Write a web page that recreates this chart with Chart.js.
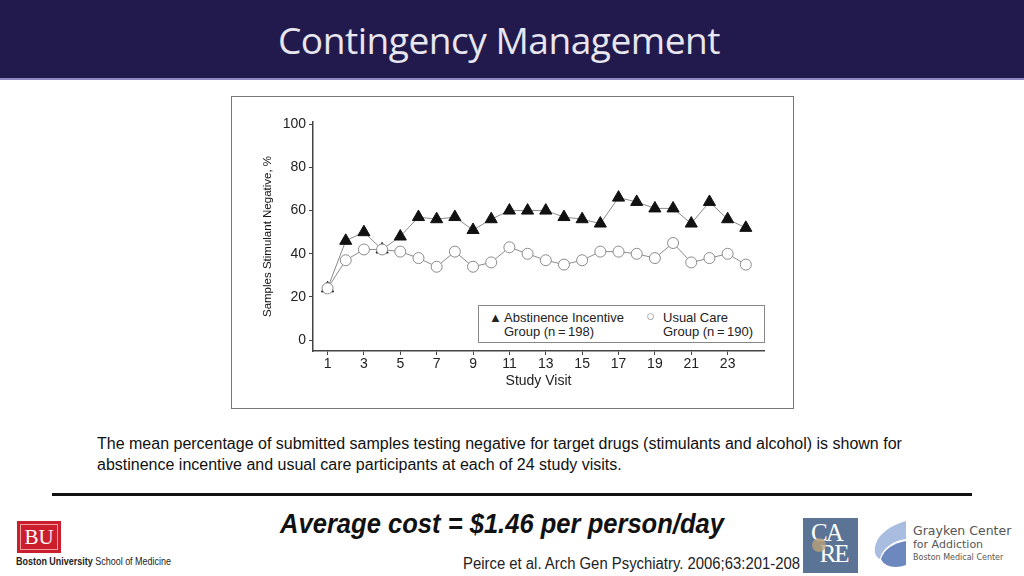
<!DOCTYPE html>
<html>
<head>
<meta charset="utf-8">
<script src="https://cdn.jsdelivr.net/npm/chart.js@4.4.0/dist/chart.umd.min.js"></script>
<style>
  body { margin: 0; width: 1024px; height: 576px; position: relative; background: #fff; font-family: "Liberation Sans", Arial, sans-serif; overflow: hidden; }
  .header { position: absolute; left: 0; top: 0; width: 1024px; height: 78px; background: #221a4c; border-bottom: 2px solid #9088c0; }
  .header h1 { position: absolute; left: 278px; top: 0; margin: 0; color: #e8e6ef; font-family: "Open Sans", sans-serif; font-weight: 400; font-size: 37px; line-height: 80px; letter-spacing: -0.5px; white-space: nowrap; transform-origin: left center; }
  .chartbox { position: absolute; left: 231px; top: 96px; width: 561px; height: 311px; border: 1px solid #777; background: #fff; }
  .legend { position: absolute; left: 478px; top: 305px; width: 285px; height: 36px; border: 1px solid #888; background: #fff; font-size: 13px; color: #222; line-height: 14px; }
  .legend .item { position: absolute; top: 5px; white-space: nowrap; }
  .legend .mark { position: absolute; left: -15px; top: 0px; font-size: 13px; }
  .caption { position: absolute; left: 97px; top: 433px; font-size: 16px; line-height: 21px; color: #111; }
  .rule { position: absolute; left: 52px; top: 493px; width: 920px; height: 3px; background: #111; }
  .fit { position: absolute; white-space: nowrap; transform-origin: left center; }
  .cost { left: 280px; top: 509px; font-weight: bold; font-style: italic; font-size: 27px; color: #111; }
  .cite { left: 463px; top: 555px; font-size: 16px; color: #222; }
</style>
</head>
<body>
<div class="header"><h1 class="fitme" data-w="442">Contingency Management</h1></div>

<div class="chartbox"><canvas id="chart" width="561" height="311"></canvas></div>

<div class="legend">
  <div class="item" style="left:25px"><span class="mark">&#9650;</span>Abstinence Incentive<br>Group (n&#8201;=&#8201;198)</div>
  <div class="item" style="left:184px"><span class="mark" style="color:#999;font-size:15px;top:-2px;left:-17px">&#9675;</span>Usual Care<br>Group (n&#8201;=&#8201;190)</div>
</div>

<div class="caption">The mean percentage of submitted samples testing negative for target drugs (stimulants and alcohol) is shown for<br>abstinence incentive and usual care participants at each of 24 study visits.</div>
<div class="rule"></div>
<div class="fit cost fitme" data-w="444">Average cost = $1.46 per person/day</div>
<div class="fit cite fitme" data-w="337">Peirce et al. Arch Gen Psychiatry. 2006;63:201-208</div>

<!-- BU logo -->
<div style="position:absolute;left:17px;top:521px;width:44px;height:32px;background:#cc1f2d;"></div>
<div style="position:absolute;left:20px;top:524px;width:36px;height:24px;border:1px solid #f0a0a0;"></div>
<div style="position:absolute;left:17px;top:524px;width:44px;text-align:center;color:#fff;font-family:'Liberation Serif',serif;font-size:21px;line-height:26px;">BU</div>
<div class="fit fitme" data-w="155" style="left:16px;top:556px;font-size:10px;color:#222;"><b>Boston University</b> School of Medicine</div>

<!-- CARE logo -->
<div style="position:absolute;left:803px;top:518px;width:55px;height:55px;background:#5b7394;"></div>
<div style="position:absolute;left:811px;top:522px;color:#fff;font-family:'Liberation Serif',serif;font-size:25px;line-height:21px;letter-spacing:-2px;">CA<br>&nbsp;&nbsp;RE</div>
<div style="position:absolute;left:812px;top:538px;width:14px;height:14px;border-radius:50%;background:#b9a27a;opacity:0.8;"></div>

<!-- Grayken logo -->
<svg style="position:absolute;left:872px;top:519px" width="38" height="52" viewBox="0 0 38 52">
  <path d="M34 2 C20 6 6 14 3 28 C2 34 4 38 8 40 C10 30 20 22 34 20 Z" fill="#a9bde0"/>
  <path d="M34 22 C22 24 12 30 9 40 C12 48 24 50 34 46 Z" fill="#6d88bf"/>
</svg>
<div style="position:absolute;left:913px;top:524px;font-family:'DejaVu Sans',sans-serif;color:#555;">
  <div style="font-size:12.5px;line-height:14px;">Grayken Center</div>
  <div style="font-size:11px;line-height:13px;">for Addiction</div>
  <div style="font-size:8px;line-height:13px;">Boston Medical Center</div>
</div>

<script>
const visits = [1,2,3,4,5,6,7,8,9,10,11,12,13,14,15,16,17,18,19,20,21,22,23,24];
const abstinenceIncentive = [24,46,50,42,48,57,56,57,51,56,60,60,60,57,56,54,66,64,61,61,54,64,56,52];
const usualCare = [24,37,42,42,41,38,34,41,34,36,43,40,37,35,37,41,41,40,38,45,36,38,40,35];
const yTicks = [0,20,40,60,80,100];
const xTicks = [1,3,5,7,9,11,13,15,17,19,21,23];

// squeeze/stretch text blocks to the widths seen in the slide
document.querySelectorAll('.fitme').forEach((el) => {
  const w = el.getBoundingClientRect().width;
  el.style.transformOrigin = 'left center';
  el.style.transform = 'scaleX(' + (+el.dataset.w / w) + ')';
});

const toPts = (arr) => arr.map((v, i) => ({ x: visits[i], y: v }));
const tickFont = { family: 'Liberation Sans', size: 14 };

new Chart(document.getElementById('chart').getContext('2d'), {
  type: 'line',
  data: {
    datasets: [
      {
        label: 'Usual Care Group (n=190)',
        data: toPts(usualCare),
        borderColor: '#8a8a8a',
        borderWidth: 1,
        pointStyle: 'circle',
        pointRadius: 5.5,
        pointBackgroundColor: '#fff',
        pointBorderColor: '#8a8a8a',
        pointBorderWidth: 1
      },
      {
        label: 'Abstinence Incentive Group (n=198)',
        data: toPts(abstinenceIncentive),
        borderColor: '#8a8a8a',
        borderWidth: 1,
        pointStyle: 'triangle',
        pointRadius: 7,
        pointBackgroundColor: '#111',
        pointBorderColor: '#111',
        pointBorderWidth: 1
      }
    ]
  },
  options: {
    responsive: false,
    animation: false,
    layout: { padding: { top: 25, right: 29, bottom: 18, left: 24 } },
    plugins: { legend: { display: false }, tooltip: { enabled: false } },
    scales: {
      x: {
        type: 'linear',
        min: 0.2,
        max: 25,
        afterBuildTicks: (s) => { s.ticks = xTicks.map(v => ({ value: v })); },
        afterFit: (s) => { s.height = 39; },
        grid: { drawOnChartArea: false, drawTicks: true, tickLength: 4, color: '#444' },
        border: { color: '#444', width: 1.5 },
        ticks: { color: '#222', font: tickFont, padding: 1, maxRotation: 0 },
        title: { display: true, text: 'Study Visit', color: '#222', font: tickFont, padding: { top: 0, bottom: 0 } }
      },
      y: {
        min: -5,
        max: 101,
        afterBuildTicks: (s) => { s.ticks = yTicks.map(v => ({ value: v })); },
        afterFit: (s) => { s.width = 57; },
        grid: { drawOnChartArea: false, drawTicks: true, tickLength: 4, color: '#444' },
        border: { color: '#444', width: 1.5 },
        ticks: { color: '#222', font: tickFont, padding: 3 },
        title: { display: true, text: 'Samples Stimulant Negative, %', color: '#111', font: { family: "'Liberation Sans', sans-serif", size: 11.5 }, padding: { top: 5, bottom: 0 } }
      }
    }
  }
});
</script>
</body>
</html>
